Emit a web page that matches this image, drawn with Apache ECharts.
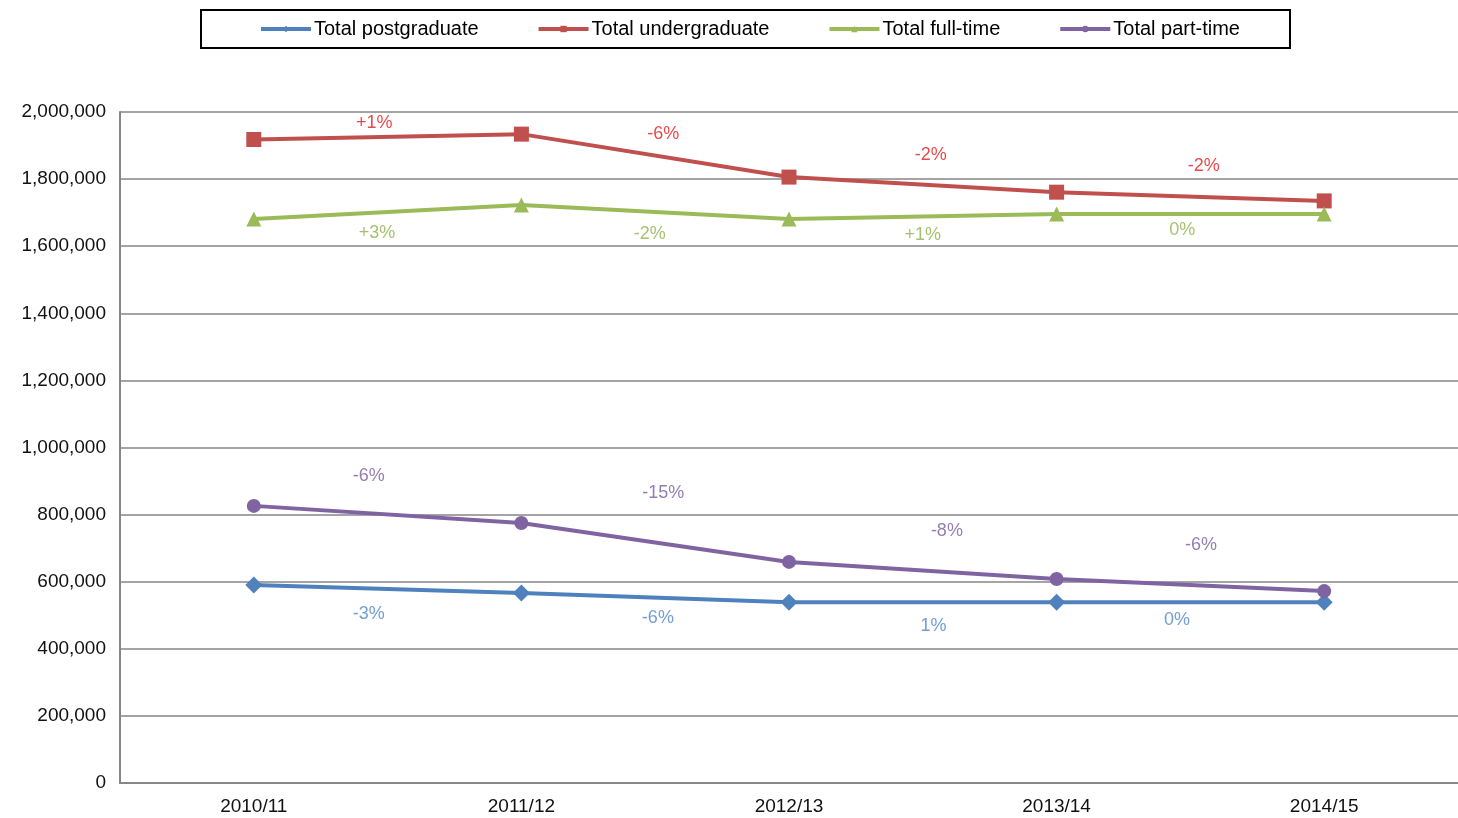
<!DOCTYPE html>
<html>
<head>
<meta charset="utf-8">
<script src="https://cdn.jsdelivr.net/npm/echarts@6/dist/echarts.min.js"></script>
<style>
  html, body { margin: 0; padding: 0; background: #fff; }
  #chart { width: 1458px; height: 818px; }
</style>
</head>
<body>
<div id="chart"></div>
<script>
// 横轴年份
const years = ['2010/11', '2011/12', '2012/13', '2013/14', '2014/15'];

// 各系列的学生人数
const postgraduate = [590000, 566000, 539000, 539000, 539000];
const undergraduate = [1918000, 1934000, 1806000, 1761000, 1735000];
const fullTime = [1681000, 1723000, 1681000, 1696000, 1696000];
const partTime = [826000, 775000, 659000, 608000, 572000];

// 年度变化标签（文字、位置以数据单位表示）
const pgChange = ['-3%', '-6%', '1%', '0%'];
const pgChangeX = [0.93, 2.01, 3.04, 3.95];
const pgChangeY = [504000, 492000, 468000, 486000];

const ugChange = ['+1%', '-6%', '-2%', '-2%'];
const ugChangeX = [0.95, 2.03, 3.03, 4.05];
const ugChangeY = [1967000, 1934000, 1872000, 1839000];

const ftChange = ['+3%', '-2%', '+1%', '0%'];
const ftChangeX = [0.96, 1.98, 3.0, 3.97];
const ftChangeY = [1639000, 1636000, 1633000, 1648000];

const ptChange = ['-6%', '-15%', '-8%', '-6%'];
const ptChangeX = [0.93, 2.03, 3.09, 4.04];
const ptChangeY = [915000, 864000, 751000, 709000];

const yTicks = { min: 0, max: 2000000, interval: 200000 };

const chart = echarts.init(document.getElementById('chart'));

// 生成变化标签的散点系列
function changeSeries(texts, xs, ys, color) {
  return {
    type: 'scatter',
    xAxisIndex: 1,
    symbolSize: 1,
    itemStyle: { color: 'rgba(0,0,0,0)' },
    silent: true,
    label: {
      show: true,
      position: 'inside',
      color: color,
      fontSize: 18,
      fontFamily: 'Liberation Sans',
      formatter: (p) => texts[p.dataIndex]
    },
    data: xs.map((x, i) => [x, ys[i]])
  };
}

function lineSeries(name, data, color, symbol, size) {
  return {
    name: name,
    type: 'line',
    data: data,
    symbol: symbol,
    symbolSize: size,
    showAllSymbol: true,
    lineStyle: { color: color, width: 4 },
    itemStyle: { color: color }
  };
}

const option = {
  animation: false,
  textStyle: { fontFamily: 'Liberation Sans' },
  legend: {
    left: 201,
    top: 10,
    padding: [9, 50, 9, 58],
    itemGap: 58,
    itemWidth: 50,
    itemHeight: 8,
    borderColor: '#000',
    borderWidth: 2,
    lineStyle: { width: 4 },
    textStyle: { color: '#000', fontSize: 20, fontFamily: 'Liberation Sans', padding: [0, 0, 0, -2] },
    data: ['Total postgraduate', 'Total undergraduate', 'Total full-time', 'Total part-time']
  },
  grid: { left: 120, right: 0, top: 112, bottom: 35 },
  xAxis: [
    {
      type: 'category',
      data: years,
      boundaryGap: true,
      axisLine: { lineStyle: { color: '#868686', width: 2 } },
      axisTick: { alignWithLabel: true, length: 5, lineStyle: { color: '#868686' } },
      axisLabel: { color: '#111', fontSize: 19, margin: 14 }
    },
    {
      type: 'value',
      min: 0,
      max: 5,
      show: false
    }
  ],
  yAxis: {
    type: 'value',
    min: yTicks.min,
    max: yTicks.max,
    interval: yTicks.interval,
    axisLine: { show: true, lineStyle: { color: '#868686', width: 2 } },
    axisTick: { show: false },
    splitLine: { lineStyle: { color: '#868686', width: 1.5 } },
    axisLabel: {
      color: '#111',
      fontSize: 19,
      margin: 14,
      formatter: (v) => v.toLocaleString('en-US')
    }
  },
  series: [
    lineSeries('Total postgraduate', postgraduate, '#4F81BD', 'diamond', 17),
    lineSeries('Total undergraduate', undergraduate, '#C0504D', 'rect', 15),
    lineSeries('Total full-time', fullTime, '#9BBB59', 'triangle', 15),
    lineSeries('Total part-time', partTime, '#8064A2', 'circle', 14),
    changeSeries(pgChange, pgChangeX, pgChangeY, '#4F86CC'),
    changeSeries(ugChange, ugChangeX, ugChangeY, '#E31A1C'),
    changeSeries(ftChange, ftChangeX, ftChangeY, '#8DB248'),
    changeSeries(ptChange, ptChangeX, ptChangeY, '#7A5C9E')
  ]
};

chart.setOption(option);
</script>
</body>
</html>
